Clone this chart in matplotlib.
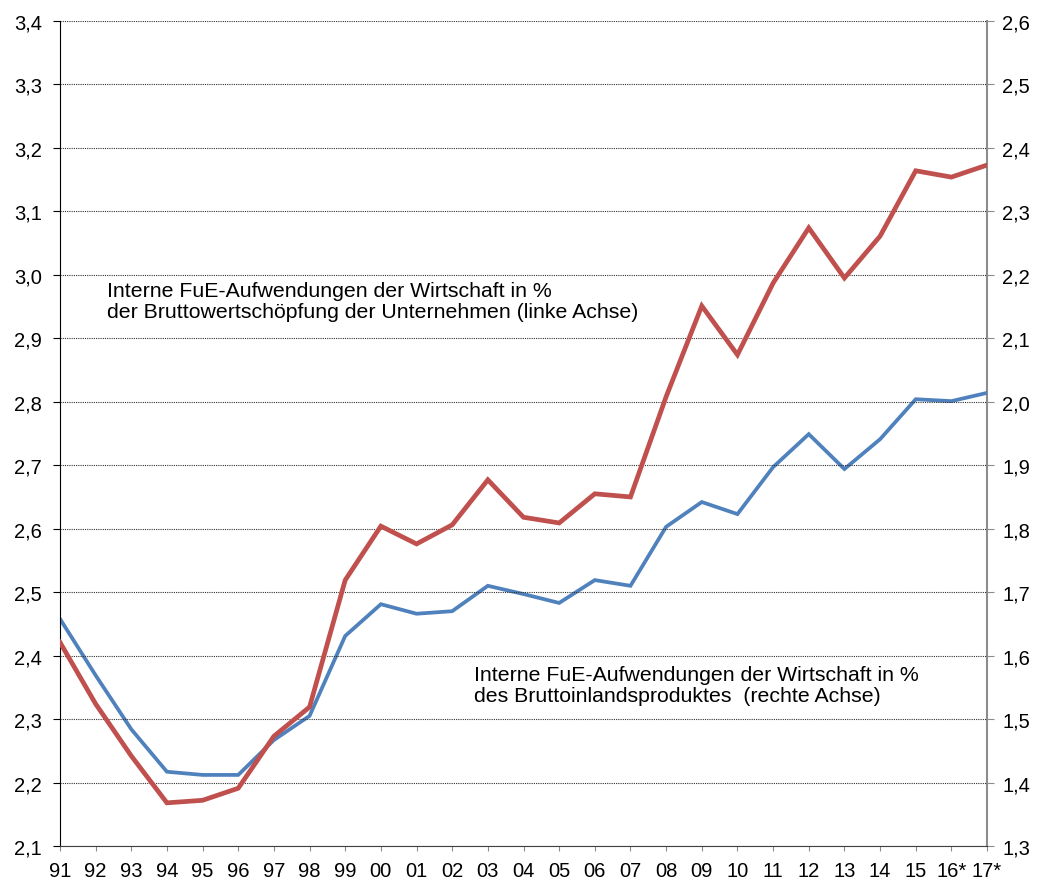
import matplotlib
matplotlib.use('Agg')
import matplotlib.pyplot as plt
from matplotlib.ticker import FixedLocator, FuncFormatter

plt.rcParams['font.family'] = ['Liberation Sans', 'DejaVu Sans']

years = ['91', '92', '93', '94', '95', '96', '97', '98', '99', '00', '01', '02', '03',
         '04', '05', '06', '07', '08', '09', '10', '11', '12', '13', '14', '15', '16*', '17*']

# FuE in % der Bruttowertschoepfung der Unternehmen (linke Achse)
bws = [2.421, 2.324, 2.242, 2.168, 2.172, 2.191, 2.273, 2.319, 2.519, 2.604, 2.576, 2.606, 2.677,
       2.618, 2.609, 2.655, 2.650, 2.808, 2.951, 2.874, 2.987, 3.074, 2.995, 3.061, 3.164, 3.154, 3.173]

# FuE in % des Bruttoinlandsproduktes (rechte Achse)
bip = [1.658, 1.569, 1.484, 1.417, 1.412, 1.412, 1.467, 1.505, 1.631, 1.681, 1.666, 1.670, 1.710,
       1.697, 1.683, 1.719, 1.710, 1.803, 1.842, 1.823, 1.897, 1.949, 1.894, 1.941, 2.004, 2.001, 2.014]

left_ticks = [2.1 + 0.1 * i for i in range(14)]
right_ticks = [1.3 + 0.1 * i for i in range(14)]

fig = plt.figure(figsize=(10.39, 8.87), dpi=100)
ax = fig.add_axes([0.0577, 0.0451, 0.8923, 0.9301])
ax2 = ax.twinx()
ax.set_zorder(ax2.get_zorder() + 1)
ax.patch.set_visible(False)

x = list(range(len(years)))
ax2.plot(x, bip, color='#4F81BD', lw=2.7, solid_joinstyle='miter', zorder=3)
ax.plot(x, bws, color='#C0504D', lw=3.4, solid_joinstyle='miter', zorder=3)

comma = FuncFormatter(lambda v, p: f'{v:.1f}'.replace('.', ','))

ax.set_xlim(0, len(years) - 1)
ax.set_ylim(2.1, 3.4)
ax2.set_ylim(1.3, 2.6)
ax.yaxis.set_major_locator(FixedLocator(left_ticks))
ax2.yaxis.set_major_locator(FixedLocator(right_ticks))
ax.yaxis.set_major_formatter(comma)
ax2.yaxis.set_major_formatter(comma)
ax.set_xticks(x)
ax.set_xticklabels(years)

ax.grid(axis='y', color='#303030', linestyle=(0, (1, 1)), lw=0.8)

for a in (ax, ax2):
    a.spines['top'].set_visible(False)
ax.spines['right'].set_visible(False)
ax2.spines['left'].set_visible(False)
ax2.spines['bottom'].set_visible(False)
ax.spines['left'].set_color('black')
ax.spines['bottom'].set_color('#404040')
ax2.spines['right'].set_color('#8c8c8c')
ax2.spines['right'].set_linewidth(1.5)

ax.tick_params(axis='y', direction='out', length=5, color='black', labelsize=14.5, pad=8)
ax2.tick_params(axis='y', direction='out', length=5, color='#8c8c8c', labelsize=14.5, pad=6)
ax.tick_params(axis='x', direction='out', length=3.6, color='#8c8c8c', labelsize=14.5, pad=7)

ax.text(1.32, 2.99, 'Interne FuE-Aufwendungen der Wirtschaft in %\nder Bruttowertschöpfung der Unternehmen (linke Achse)',
        fontsize=15.3, va='top', ha='left', linespacing=1.12)
ax.text(11.6, 2.385, 'Interne FuE-Aufwendungen der Wirtschaft in %\ndes Bruttoinlandsproduktes  (rechte Achse)',
        fontsize=15.3, va='top', ha='left', linespacing=1.12)

fig.savefig('out.png', dpi=100)
